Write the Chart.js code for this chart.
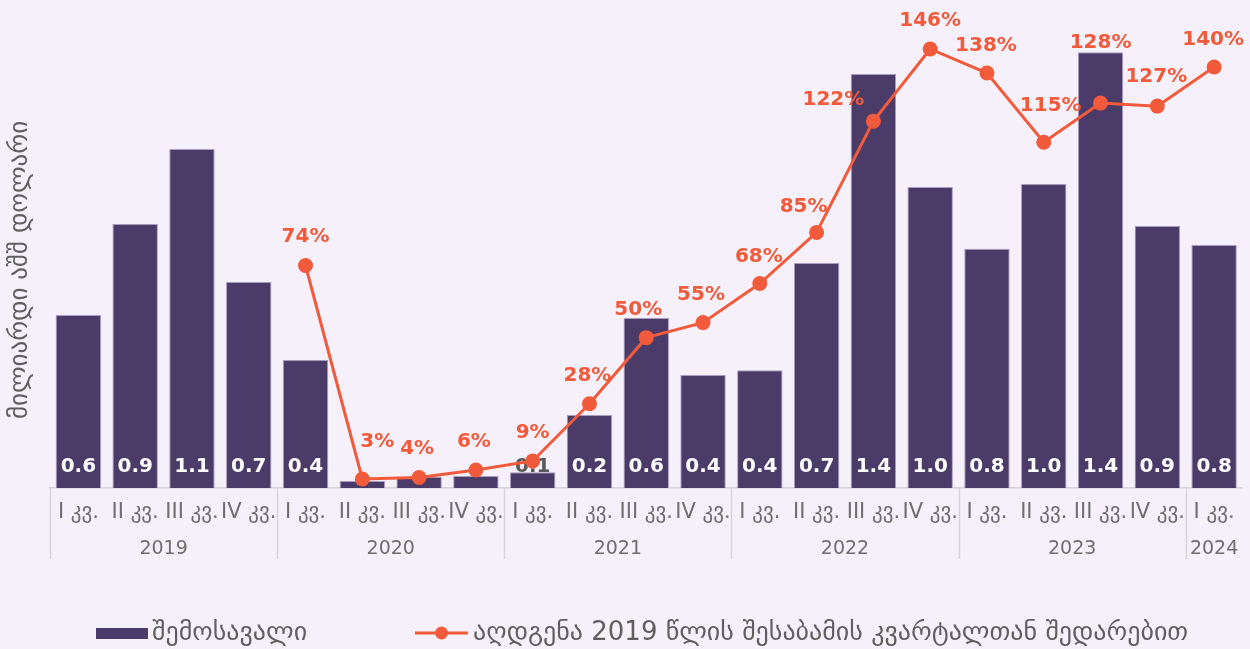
<!DOCTYPE html>
<html>
<head>
<meta charset="utf-8">
<script src="https://cdn.jsdelivr.net/npm/chart.js@4.4.1/dist/chart.umd.min.js"></script>
<style>
  html, body { margin: 0; padding: 0; background: #f5f0fa; }
  #wrap { width: 1250px; height: 649px; }
</style>
</head>
<body>
<div id="wrap"><canvas id="chart"></canvas></div>
<script>
// data
var quarterLabels = ["I კვ.", "II კვ.", "III კვ.", "IV კვ.",
                     "I კვ.", "II კვ.", "III კვ.", "IV კვ.",
                     "I კვ.", "II კვ.", "III კვ.", "IV კვ.",
                     "I კვ.", "II კვ.", "III კვ.", "IV კვ.",
                     "I კვ.", "II კვ.", "III კვ.", "IV კვ.",
                     "I კვ."];
var yearLabels = ["2019", "2019", "2019", "2019",
                  "2020", "2020", "2020", "2020",
                  "2021", "2021", "2021", "2021",
                  "2022", "2022", "2022", "2022",
                  "2023", "2023", "2023", "2023",
                  "2024"];
// revenue, billion USD
var revenue = [0.575, 0.878, 1.127, 0.685,
               0.426, 0.023, 0.037, 0.040,
               0.052, 0.243, 0.565, 0.376,
               0.392, 0.748, 1.377, 1.001,
               0.796, 1.011, 1.449, 0.871,
               0.808];
// recovery vs same quarter of 2019, %
var recovery = [null, null, null, null,
                74, 3, 3.5, 6,
                9, 28, 50, 55,
                68, 85, 122, 146,
                138, 115, 128, 127,
                140];

var barColor = "#4b3b68";
var lineColor = "#f15a3b";
var textGray = "#5f5f5f";
var fontName = '"DejaVu Sans"';

// label nudges for the line values [dx, dy] (style only)
var lineLabelShift = [null, null, null, null,
  [0, -30], [15, -39], [-2, -30], [-2, -30],
  [0, -30], [-2, -30], [-8, -30], [-2, -30],
  [-1, -29], [-13, -27], [-40, -23], [0, -30],
  [-1, -29], [7, -38], [0, -62], [-1, -31],
  [-1, -29]];

var labelPlugin = {
  id: "labelPlugin",
  afterDatasetDraw: function(chart, args) {
    if (args.index !== 0) return;
    var ctx = chart.ctx;
    var bottom = chart.chartArea.bottom;
    var meta = chart.getDatasetMeta(0);
    ctx.save();
    ctx.font = "bold 20px " + fontName;
    ctx.textAlign = "center";
    ctx.textBaseline = "alphabetic";
    meta.data.forEach(function(bar, i) {
      var txt = revenue[i].toFixed(1);
      if (txt === "0.0") return;
      ctx.fillStyle = bar.y > bottom - 35 ? "#595959" : "#ffffff";
      ctx.fillText(txt, bar.x, bottom - 16);
    });
    ctx.restore();
  },
  afterDatasetsDraw: function(chart) {
    var ctx = chart.ctx;
    var meta = chart.getDatasetMeta(1);
    ctx.save();
    ctx.font = "bold 20px " + fontName;
    ctx.textAlign = "center";
    ctx.textBaseline = "alphabetic";
    ctx.fillStyle = lineColor;
    meta.data.forEach(function(pt, i) {
      if (recovery[i] === null) return;
      var s = lineLabelShift[i] || [0, -30];
      ctx.fillText(Math.round(recovery[i]) + "%", pt.x + s[0], pt.y + s[1] + 7);
    });
    ctx.restore();
  },
  afterDraw: function(chart) {
    var ctx = chart.ctx;
    var x = chart.scales.x;
    var bottom = chart.chartArea.bottom;
    var half = (x.getPixelForValue(1) - x.getPixelForValue(0)) / 2;
    ctx.save();
    ctx.textAlign = "center";
    ctx.textBaseline = "alphabetic";

    // quarter labels
    ctx.font = "21px " + fontName;
    ctx.fillStyle = "#6e6e6e";
    quarterLabels.forEach(function(q, i) {
      ctx.fillText(q, x.getPixelForValue(i), bottom + 30);
    });

    // year groups + separators
    ctx.font = "19px " + fontName;
    ctx.strokeStyle = "#d8d4dc";
    ctx.lineWidth = 1.5;
    var start = 0;
    for (var i = 1; i <= yearLabels.length; i++) {
      if (i === yearLabels.length || yearLabels[i] !== yearLabels[start]) {
        var x0 = x.getPixelForValue(start) - half;
        var x1 = x.getPixelForValue(i - 1) + half;
        ctx.fillText(yearLabels[start], (x0 + x1) / 2, bottom + 66);
        ctx.beginPath();
        ctx.moveTo(Math.round(x0) + 0.5, bottom);
        ctx.lineTo(Math.round(x0) + 0.5, bottom + 71);
        ctx.stroke();
        start = i;
      }
    }

    // legend
    var ly = 633;
    ctx.font = "26px " + fontName;
    ctx.fillStyle = barColor;
    ctx.fillRect(96, ly - 5, 52, 11);
    ctx.fillStyle = textGray;
    ctx.textAlign = "left";
    ctx.fillText(chart.data.datasets[0].label, 152, ly + 7);

    ctx.strokeStyle = lineColor;
    ctx.lineWidth = 3;
    ctx.beginPath();
    ctx.moveTo(415, ly);
    ctx.lineTo(468, ly);
    ctx.stroke();
    ctx.fillStyle = lineColor;
    ctx.beginPath();
    ctx.arc(441.5, ly, 6.5, 0, Math.PI * 2);
    ctx.fill();
    ctx.fillStyle = textGray;
    ctx.fillText(chart.data.datasets[1].label, 473, ly + 7);
    ctx.restore();
  }
};

var ctx = document.getElementById("chart");
var chart = new Chart(ctx, {
  type: "bar",
  data: {
    labels: quarterLabels,
    datasets: [{
      type: "bar",
      label: "შემოსავალი",
      data: revenue,
      backgroundColor: barColor,
      borderColor: "#a99cc0",
      borderWidth: 1,
      barPercentage: 0.8,
      categoryPercentage: 1,
      order: 2
    }, {
      type: "line",
      label: "აღდგენა 2019 წლის შესაბამის კვარტალთან შედარებით",
      data: recovery.map(function(v) { return v === null ? null : v / 100; }),
      borderColor: lineColor,
      backgroundColor: lineColor,
      borderWidth: 3,
      pointRadius: 7.5,
      pointHoverRadius: 7.5,
      pointBorderWidth: 0,
      tension: 0,
      clip: false,
      order: 1
    }]
  },
  options: {
    responsive: true,
    maintainAspectRatio: false,
    animation: false,
    events: [],
    layout: { padding: { top: 52, bottom: 89, left: 0, right: 0 } },
    plugins: {
      legend: { display: false },
      tooltip: { enabled: false }
    },
    scales: {
      x: {
        offset: true,
        grid: { display: false },
        border: { display: true, color: "#d8d4dc", width: 1.5 },
        ticks: { display: false },
        afterFit: function(scale) { scale.height = 72; }
      },
      y: {
        min: 0,
        max: 1.45,
        grid: { display: false, drawTicks: false },
        border: { display: false },
        ticks: { display: false },
        title: {
          display: true,
          text: "მილიარდი აშშ დოლარი",
          color: textGray,
          font: { family: "DejaVu Sans", size: 25 },
          padding: { top: 5, bottom: 0 }
        },
        afterFit: function(scale) { scale.width = 50; }
      }
    }
  },
  plugins: [labelPlugin]
});
</script>
</body>
</html>
